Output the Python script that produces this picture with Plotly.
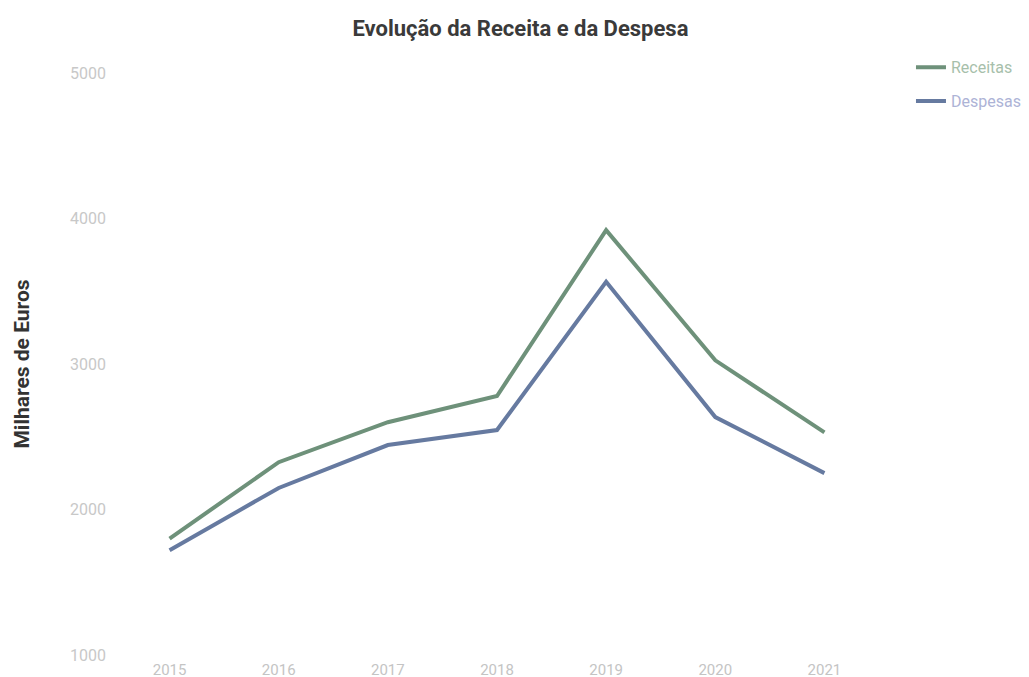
import plotly.graph_objects as go

anos = ["2015", "2016", "2017", "2018", "2019", "2020", "2021"]
receitas = [1800, 2325, 2600, 2780, 3920, 3025, 2530]
despesas = [1720, 2148, 2443, 2546, 3565, 2635, 2250]
y_ticks = [1000, 2000, 3000, 4000, 5000]

fig = go.Figure()
fig.add_trace(go.Scatter(
    x=anos, y=receitas, mode="lines",
    name="<span style='color:#a7bfab'>Receitas</span>",
    line=dict(color="#6e917a", width=4), legendgroup="r",
))
fig.add_trace(go.Scatter(
    x=anos, y=despesas, mode="lines",
    name="<span style='color:#adb3d6'>Despesas</span>",
    line=dict(color="#667aa0", width=4), legendgroup="d",
))

fig.update_layout(
    width=1029, height=677,
    paper_bgcolor="white", plot_bgcolor="white",
    margin=dict(l=107, r=157, t=65, b=30),
    title=dict(text="<b>Evolução da Receita e da Despesa</b>", x=0.498, xanchor="center",
               y=0.9705, yanchor="middle",
               font=dict(family="Roboto", size=22, color="#3a3a3a")),
    font=dict(family="Roboto"),
    legend=dict(x=1.0405, y=1.039, xanchor="left", yanchor="top",
                font=dict(size=16), tracegroupgap=10, traceorder="grouped",
                itemwidth=30),
    xaxis=dict(type="category", range=[-0.5, 6.5], showgrid=False, zeroline=False,
               showline=False, ticks="", ticklabelstandoff=4, automargin=False,
               tickfont=dict(size=15, color="#c4c4c4")),
    yaxis=dict(range=[1000, 5000], tickvals=y_ticks, showgrid=False, zeroline=False,
               showline=False, ticks="", tickfont=dict(size=16, color="#c8c8c8"),
               ticklabelstandoff=8,
               title=dict(text="<b>Milhares de Euros</b>", standoff=34,
                          font=dict(size=21, color="#333333"))),
)

fig.write_html("out.html")
